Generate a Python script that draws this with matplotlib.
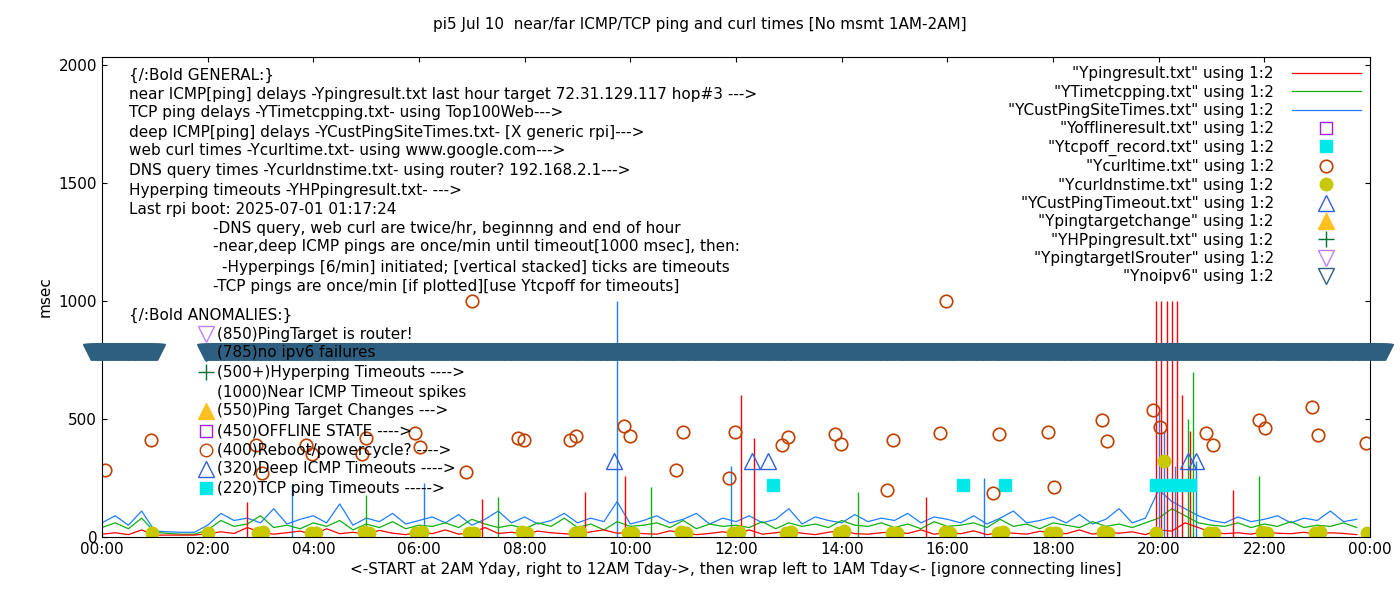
import matplotlib
matplotlib.use("Agg")
import matplotlib.pyplot as plt
import numpy as np

# 15-minute samples, 00:00 .. 23:45 (msec)
near_icmp = [12, 18, 10, 30, 8, 8, 8, 8, 14, 22, 15, 40, 20, 12, 18, 25,
             10, 35, 14, 20, 12, 28, 16, 10, 22, 14, 30, 12, 18, 40, 15, 20,
             12, 25, 18, 14, 10, 22, 30, 16, 20, 14, 12, 26, 18, 10, 15, 22,
             14, 30, 12, 18, 25, 16, 10, 20, 28, 14, 12, 18, 22, 15, 30, 12,
             18, 14, 26, 10, 20, 16, 12, 24, 18, 14, 30, 12, 20, 16, 22, 10,
             30, 25, 60, 40, 20, 14, 18, 12, 22, 16, 14, 20, 12, 18, 15, 10]
tcp_ping = [40, 60, 35, 80, 20, 15, 12, 12, 30, 70, 45, 55, 90, 40, 50, 35,
            60, 45, 70, 30, 55, 40, 65, 35, 50, 45, 60, 40, 75, 55, 40, 50,
            35, 60, 45, 80, 40, 55, 30, 65, 45, 50, 60, 40, 70, 35, 55, 45,
            50, 40, 65, 35, 60, 45, 55, 40, 70, 50, 45, 60, 40, 55, 35, 65,
            45, 50, 60, 40, 75, 45, 55, 35, 60, 50, 40, 65, 45, 55, 40, 60,
            80, 120, 90, 60, 50, 45, 60, 40, 55, 45, 65, 40, 50, 45, 60, 40]
deep_icmp = [60, 90, 50, 110, 25, 22, 20, 20, 50, 100, 70, 80, 60, 120, 55, 75,
             90, 60, 140, 50, 80, 65, 100, 55, 70, 85, 60, 95, 50, 75, 110, 60,
             85, 55, 70, 100, 60, 80, 65, 150, 55, 70, 90, 60, 75, 100, 55, 80,
             65, 90, 60, 75, 120, 55, 85, 70, 60, 95, 65, 80, 70, 100, 60, 85,
             75, 60, 90, 55, 80, 110, 60, 70, 85, 60, 95, 55, 75, 120, 60, 80,
             200, 150, 120, 90, 70, 60, 85, 65, 75, 90, 60, 80, 70, 110, 65, 75]
# isolated spikes (hour, msec)
near_spike_t = [2.75, 7.2, 9.15, 9.9, 12.1, 12.35, 15.6, 19.95, 20.05, 20.15, 20.25, 20.35, 20.45, 20.6, 21.4]
near_spike_v = [150, 160, 190, 260, 600, 420, 170, 1000, 1000, 1000, 1000, 1000, 600, 450, 200]
tcp_spike_t = [5.0, 7.5, 10.4, 14.3, 20.55, 20.65, 21.9]
tcp_spike_v = [180, 170, 210, 190, 500, 700, 260]
deep_spike_t = [3.6, 6.1, 9.75, 11.9, 16.7, 20.0, 20.1, 20.3, 20.7]
deep_spike_v = [220, 230, 1000, 300, 250, 550, 450, 300, 320]

curl_t = [0.06, 0.93, 2.91, 3.02, 3.87, 3.98, 4.93, 5.0, 5.93, 6.02, 6.89, 7.0, 7.87,
          7.98, 8.86, 8.98, 9.88, 10.0, 10.87, 11.0, 11.87, 11.98, 12.87, 12.98,
          13.87, 13.98, 14.86, 14.97, 15.86, 15.98, 16.86, 16.98, 17.9, 18.02,
          18.92, 19.03, 19.9, 20.02, 20.9, 21.02, 21.9, 22.02, 22.9, 23.02, 23.93]
curl_v = [284, 411, 390, 272, 390, 350, 350, 420, 440, 380, 275, 1000, 420, 410, 410,
          430, 470, 430, 285, 445, 250, 445, 390, 425, 435, 395, 200, 410, 440, 1000,
          185, 435, 445, 210, 495, 408, 540, 468, 440, 390, 495, 460, 550, 432, 400]
dns_t = [0.95, 2.0, 2.95, 3.05, 3.95, 4.05, 4.95, 5.05, 5.95, 6.05, 6.95, 7.05, 7.95,
         8.05, 8.95, 9.05, 9.95, 10.05, 10.95, 11.05, 11.95, 12.05, 12.95, 13.05,
         13.95, 14.05, 14.95, 15.05, 15.95, 16.05, 16.95, 17.05, 17.95, 18.05,
         18.95, 19.05, 19.95, 20.1, 20.95, 21.05, 21.95, 22.05, 22.95, 23.05, 23.95]
dns_v = [18, 15, 15, 20, 18, 15, 20, 18, 15, 22, 18, 15, 20, 18, 15, 20, 18, 15,
         20, 18, 15, 22, 18, 20, 15, 25, 18, 15, 20, 18, 15, 20, 18, 15, 20, 18,
         15, 320, 18, 15, 20, 18, 15, 20, 18]
tcpoff_t = [12.7, 16.3, 17.1, 19.95, 20.2, 20.35, 20.6]
tcpoff_v = [220] * 7
deep_to_t = [9.7, 12.3, 12.6, 20.55, 20.7]
deep_to_v = [320] * 5

title = "pi5 Jul 10  near/far ICMP/TCP ping and curl times [No msmt 1AM-2AM]"

fig = plt.figure(figsize=(14, 6), dpi=100)
ax = fig.add_axes([102 / 1400, 63 / 600, 1268 / 1400, 480 / 600])

hours = np.arange(96) * 0.25
for vals, st, sv, col, lab in [
        (deep_icmp, deep_spike_t, deep_spike_v, "#1e7fff", '"YCustPingSiteTimes.txt" using 1:2'),
        (tcp_ping, tcp_spike_t, tcp_spike_v, "#10b010", '"YTimetcpping.txt" using 1:2'),
        (near_icmp, near_spike_t, near_spike_v, "#ff0000", '"Ypingresult.txt" using 1:2')]:
    ax.plot(hours, vals, color=col, lw=0.9, label=lab)
    ax.vlines(st, 0, sv, color=col, lw=1)

ax.plot([], [], "s", mfc="none", mec="#a020f0", ms=9, label='"Yofflineresult.txt" using 1:2')
ax.plot(tcpoff_t, tcpoff_v, "s", color="#00e8e8", ms=9, ls="none", label='"Ytcpoff_record.txt" using 1:2')
ax.plot(curl_t, curl_v, "o", mfc="none", mec="#c04000", ms=9, mew=1.2, ls="none", label='"Ycurltime.txt" using 1:2')
ax.plot(dns_t, dns_v, "o", color="#c8c800", ms=9, ls="none", label='"Ycurldnstime.txt" using 1:2')
ax.plot(deep_to_t, deep_to_v, "^", mfc="none", mec="#3060e0", ms=11, ls="none", label='"YCustPingTimeout.txt" using 1:2')
ax.plot([], [], "^", color="#ffc020", ms=11, label='"Ypingtargetchange" using 1:2')
ax.plot([], [], "+", color="#007030", ms=11, label='"YHPpingresult.txt" using 1:2')
ax.plot([], [], "v", mfc="none", mec="#c080ff", ms=11, label='"YpingtargetISrouter" using 1:2')

noip_t = np.concatenate([np.arange(-0.2, 1.05, 1 / 60), np.arange(1.95, 24.3, 1 / 60)])
ax.plot(noip_t, [785] * len(noip_t), "v", color="#2e5f80", ms=11, ls="none", zorder=5,
        clip_on=False)
ax.plot([], [], "v", mfc="none", mec="#2e5f80", ms=11, label='"Ynoipv6" using 1:2')

handles, labels = ax.get_legend_handles_labels()
order = [2, 1, 0] + list(range(3, len(handles)))
ax.legend([handles[i] for i in order], [labels[i] for i in order], loc="upper right",
          markerfirst=False, frameon=False, fontsize=11, handlelength=4.5,
          labelspacing=0.22, borderaxespad=0.2, handletextpad=1.2)

ax.set_xlim(0, 24)
ax.set_ylim(0, 2034)
ax.set_xticks(range(0, 25, 2))
ax.set_xticklabels(["%02d:00" % (h % 24) for h in range(0, 25, 2)])
ax.set_yticks(range(0, 2001, 500))
ax.tick_params(labelsize=11, direction="in", top=True, right=True)
ax.set_xlabel("<-START at 2AM Yday, right to 12AM Tday->, then wrap left to 1AM Tday<- [ignore connecting lines]", fontsize=11)
ax.set_ylabel("msec", fontsize=11)
fig.text(0.5, 1 - 25 / 600, title, ha="center", va="center", fontsize=11)

general = [
    (129, 75, "{/:Bold GENERAL:}"),
    (129, 94, "near ICMP[ping] delays -Ypingresult.txt last hour target 72.31.129.117 hop#3 --->"),
    (129, 113, "TCP ping delays -YTimetcpping.txt- using Top100Web--->"),
    (129, 132, "deep ICMP[ping] delays -YCustPingSiteTimes.txt- [X generic rpi]--->"),
    (129, 151, "web curl times -Ycurltime.txt- using www.google.com--->"),
    (129, 170, "DNS query times -Ycurldnstime.txt- using router? 192.168.2.1--->"),
    (129, 190, "Hyperping timeouts -YHPpingresult.txt- --->"),
    (129, 209, "Last rpi boot: 2025-07-01 01:17:24"),
    (213, 228, "-DNS query, web curl are twice/hr, beginnng and end of hour"),
    (213, 247, "-near,deep ICMP pings are once/min until timeout[1000 msec], then:"),
    (222, 267, "-Hyperpings [6/min] initiated; [vertical stacked] ticks are timeouts"),
    (213, 286, "-TCP pings are once/min [if plotted][use Ytcpoff for timeouts]"),
    (129, 315, "{/:Bold ANOMALIES:}"),
]
for px, py, s in general:
    fig.text(px / 1400, 1 - py / 600, s, ha="left", va="center", fontsize=11)

anomalies = [
    (334, "(850)PingTarget is router!", "v", dict(mfc="none", mec="#c080ff")),
    (353, "(785)no ipv6 failures", "v", dict(mfc="none", mec="#2e5f80")),
    (372, "(500+)Hyperping Timeouts ---->", "+", dict(color="#007030")),
    (392, "(1000)Near ICMP Timeout spikes", None, {}),
    (411, "(550)Ping Target Changes --->", "^", dict(color="#ffc020")),
    (431, "(450)OFFLINE STATE ---->", "s", dict(mfc="none", mec="#a020f0", ms=9)),
    (450, "(400)Reboot/powercycle? ---->", "o", dict(mfc="none", mec="#c04000", ms=9)),
    (469, "(320)Deep ICMP Timeouts ---->", "^", dict(mfc="none", mec="#3060e0")),
    (488, "(220)TCP ping Timeouts ----->", "s", dict(color="#00e8e8", ms=9)),
]
for py, s, m, kw in anomalies:
    fig.text(217 / 1400, 1 - py / 600, s, ha="left", va="center", fontsize=11, zorder=1)
    if m:
        kw.setdefault("ms", 11)
        fig.lines.append(plt.Line2D([206 / 1400], [1 - py / 600], marker=m, ls="none",
                                    transform=fig.transFigure, zorder=1, **kw))

fig.savefig("out.png")
